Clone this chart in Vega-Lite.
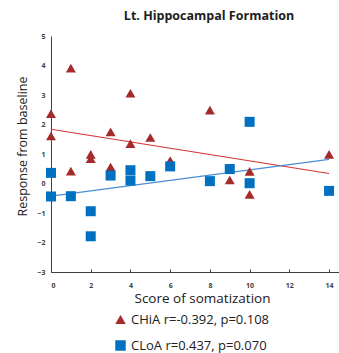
{
  "$schema": "https://vega.github.io/schema/vega-lite/v6.json",
  "autosize": "none",
  "width": 288,
  "height": 236,
  "padding": {"left": 51, "top": 36, "right": 0, "bottom": 81},
  "background": "white",
  "config": {
    "font": "Lato",
    "view": {"stroke": null},
    "axis": {"grid": false, "domainColor": "#404040", "labelColor": "#404040", "labelFontWeight": "bold", "labelFontSize": 7, "labelFont": "Open Sans"},
    "legend": {"orient": "none", "legendX": 63, "legendY": 277, "labelFont": "Open Sans", "labelFontSize": 13, "labelColor": "#202020", "symbolSize": 110, "rowPadding": 12, "labelOffset": 4}
  },
  "title": {"text": "Lt. Hippocampal Formation", "font": "Open Sans", "fontSize": 12.5, "fontWeight": "bold", "color": "#202020", "anchor": "middle", "dx": 14, "offset": 10},
  "datasets": {
    "pts": [
      {"series": "CHiA r=-0.392, p=0.108", "score": 0, "resp": 2.37},
      {"series": "CHiA r=-0.392, p=0.108", "score": 0, "resp": 1.61},
      {"series": "CHiA r=-0.392, p=0.108", "score": 1, "resp": 3.91},
      {"series": "CHiA r=-0.392, p=0.108", "score": 1, "resp": 0.42},
      {"series": "CHiA r=-0.392, p=0.108", "score": 2, "resp": 0.99},
      {"series": "CHiA r=-0.392, p=0.108", "score": 2, "resp": 0.84},
      {"series": "CHiA r=-0.392, p=0.108", "score": 3, "resp": 1.75},
      {"series": "CHiA r=-0.392, p=0.108", "score": 3, "resp": 0.56},
      {"series": "CHiA r=-0.392, p=0.108", "score": 4, "resp": 3.06},
      {"series": "CHiA r=-0.392, p=0.108", "score": 4, "resp": 1.35},
      {"series": "CHiA r=-0.392, p=0.108", "score": 5, "resp": 1.56},
      {"series": "CHiA r=-0.392, p=0.108", "score": 6, "resp": 0.78},
      {"series": "CHiA r=-0.392, p=0.108", "score": 8, "resp": 2.49},
      {"series": "CHiA r=-0.392, p=0.108", "score": 9, "resp": 0.12},
      {"series": "CHiA r=-0.392, p=0.108", "score": 10, "resp": 0.41},
      {"series": "CHiA r=-0.392, p=0.108", "score": 10, "resp": -0.37},
      {"series": "CHiA r=-0.392, p=0.108", "score": 14, "resp": 0.99},
      {"series": "CLoA r=0.437, p=0.070", "score": 0, "resp": 0.36},
      {"series": "CLoA r=0.437, p=0.070", "score": 0, "resp": -0.44},
      {"series": "CLoA r=0.437, p=0.070", "score": 1, "resp": -0.43},
      {"series": "CLoA r=0.437, p=0.070", "score": 2, "resp": -0.94},
      {"series": "CLoA r=0.437, p=0.070", "score": 2, "resp": -1.79},
      {"series": "CLoA r=0.437, p=0.070", "score": 3, "resp": 0.27},
      {"series": "CLoA r=0.437, p=0.070", "score": 4, "resp": 0.45},
      {"series": "CLoA r=0.437, p=0.070", "score": 4, "resp": 0.1},
      {"series": "CLoA r=0.437, p=0.070", "score": 5, "resp": 0.25},
      {"series": "CLoA r=0.437, p=0.070", "score": 6, "resp": 0.58},
      {"series": "CLoA r=0.437, p=0.070", "score": 8, "resp": 0.08},
      {"series": "CLoA r=0.437, p=0.070", "score": 9, "resp": 0.49},
      {"series": "CLoA r=0.437, p=0.070", "score": 10, "resp": 2.09},
      {"series": "CLoA r=0.437, p=0.070", "score": 10, "resp": 0.01},
      {"series": "CLoA r=0.437, p=0.070", "score": 14, "resp": -0.25}
    ],
    "trend": [
      {"series": "CHiA", "score": 0, "resp": 1.84},
      {"series": "CHiA", "score": 14, "resp": 0.34},
      {"series": "CLoA", "score": 0, "resp": -0.43},
      {"series": "CLoA", "score": 14, "resp": 0.82}
    ],
    "top": [{"resp": 5}]
  },
  "encoding": {
    "x": {"field": "score", "type": "quantitative", "scale": {"domain": [0, 14.5], "nice": false, "zero": false},
      "axis": {"values": [0, 2, 4, 6, 8, 10, 12, 14], "tickSize": -3, "tickColor": "#404040", "labelPadding": 12, "title": "Score of somatization", "titleFont": "Open Sans", "titleFontWeight": "normal", "titleFontSize": 13.5, "titleColor": "#202020", "titlePadding": 3, "titleX": 151}},
    "y": {"field": "resp", "type": "quantitative", "scale": {"domain": [-3, 5], "nice": false},
      "axis": {"values": [-3, -2, -1, 0, 1, 2, 3, 4, 5], "ticks": false, "labelPadding": 6, "title": "Response from baseline", "titleFont": "Open Sans", "titleFontWeight": "normal", "titleFontSize": 12.5, "titleColor": "#202020", "titlePadding": 7, "titleY": 110}}
  },
  "layer": [
    {
      "data": {"name": "top"},
      "mark": {"type": "rule", "color": "#808080", "strokeWidth": 1.5},
      "encoding": {"x": {"datum": 0}, "x2": {"datum": 14.5}}
    },
    {
      "data": {"name": "trend"},
      "transform": [{"filter": "datum.series == 'CHiA'"}],
      "mark": {"type": "line", "color": "#D43535", "strokeWidth": 1.2},
      "encoding": {}
    },
    {
      "data": {"name": "trend"},
      "transform": [{"filter": "datum.series == 'CLoA'"}],
      "mark": {"type": "line", "color": "#4A8ED6", "strokeWidth": 1.2},
      "encoding": {}
    },
    {
      "data": {"name": "pts"},
      "mark": {"type": "point", "filled": true, "opacity": 1, "size": 100},
      "encoding": {
        "shape": {"field": "series", "type": "nominal", "scale": {"range": ["triangle-up", "square"]}, "title": null},
        "color": {"field": "series", "type": "nominal", "scale": {"range": ["#A52A2A", "#0070C0"]}, "title": null}
      }
    }
  ]
}
